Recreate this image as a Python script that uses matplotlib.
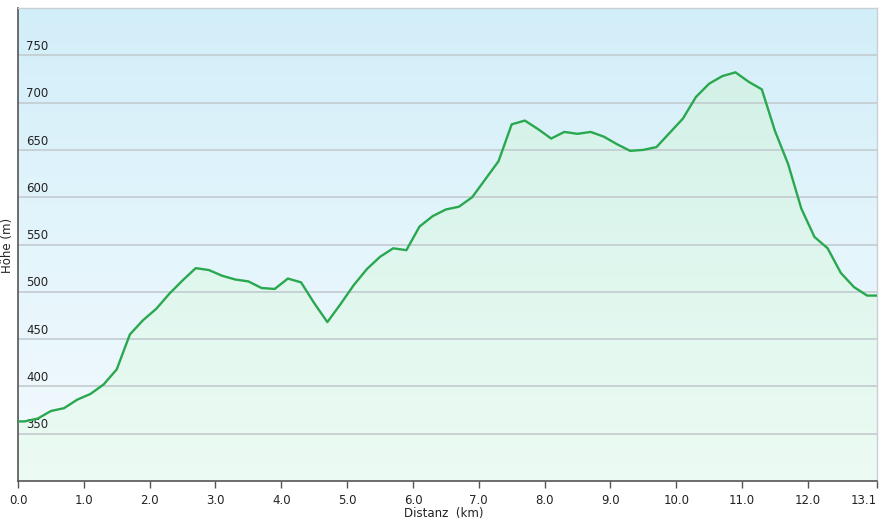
import numpy as np
import matplotlib
matplotlib.use("Agg")
import matplotlib.pyplot as plt
from matplotlib.colors import LinearSegmentedColormap
from matplotlib.patches import Polygon

distance_km = [0.0, 0.1, 0.3, 0.5, 0.7, 0.9, 1.1, 1.3, 1.5, 1.7, 1.9, 2.1, 2.3, 2.5, 2.7,
               2.9, 3.1, 3.3, 3.5, 3.7, 3.9, 4.1, 4.3, 4.5, 4.7, 4.9, 5.1, 5.3, 5.5, 5.7,
               5.9, 6.1, 6.3, 6.5, 6.7, 6.9, 7.1, 7.3, 7.5, 7.7, 7.9, 8.1, 8.3, 8.5, 8.7,
               8.9, 9.1, 9.3, 9.5, 9.7, 9.9, 10.1, 10.3, 10.5, 10.7, 10.9, 11.1, 11.3,
               11.5, 11.7, 11.9, 12.1, 12.3, 12.5, 12.7, 12.9, 13.05]
elevation_m = [363, 363, 366, 374, 377, 386, 392, 402, 418, 455, 470, 482, 498, 512, 525,
               523, 517, 513, 511, 504, 503, 514, 510, 488, 468, 487, 507, 524, 537, 546,
               544, 569, 580, 587, 590, 600, 619, 638, 677, 681, 672, 662, 669, 667, 669,
               664, 656, 649, 650, 653, 668, 683, 706, 720, 728, 732, 722, 714, 670, 635,
               588, 558, 546, 520, 505, 496, 496]
y_ticks = [350, 400, 450, 500, 550, 600, 650, 700, 750]
x_ticks = [0.0, 1.0, 2.0, 3.0, 4.0, 5.0, 6.0, 7.0, 8.0, 9.0, 10.0, 11.0, 12.0, 13.05]
x_tick_labels = ["0.0", "1.0", "2.0", "3.0", "4.0", "5.0", "6.0", "7.0", "8.0", "9.0",
                 "10.0", "11.0", "12.0", "13.1"]

W, H = 880, 520
fig = plt.figure(figsize=(W / 100, H / 100), dpi=100)
ax = fig.add_axes([18 / W, (H - 481) / H, (877 - 18) / W, (481 - 8) / H])
xmin, xmax, ymin, ymax = 0.0, 13.05, 300, 800
ax.set_xlim(xmin, xmax)
ax.set_ylim(ymin, ymax)

# background gradient (light blue at top to almost white at bottom)
bg = LinearSegmentedColormap.from_list("bg", ["#f4fafd", "#e4f5fc", "#d2eef9"])
grad = np.linspace(0, 1, 256).reshape(-1, 1)
ax.imshow(grad, cmap=bg, aspect="auto", extent=[xmin, xmax, ymin, ymax],
          origin="lower", zorder=0)

# area fill with green gradient clipped to polygon
fill_cmap = LinearSegmentedColormap.from_list("fill", ["#ecfbf3", "#e0f7ee", "#d3f1e8"])
verts = [(distance_km[0], ymin)] + list(zip(distance_km, elevation_m)) + [(distance_km[-1], ymin)]
poly = Polygon(verts, closed=True, facecolor="none", edgecolor="none")
ax.add_patch(poly)
im = ax.imshow(grad, cmap=fill_cmap, aspect="auto",
               extent=[xmin, xmax, ymin, max(elevation_m)], origin="lower", zorder=1)
im.set_clip_path(poly)

for yt in y_ticks:
    ax.axhline(yt, color="#c3cbcf", lw=1.2, zorder=2)
    ax.text(0.12, yt + 2.5, str(yt), fontsize=8.5, color="#222222",
            ha="left", va="bottom", zorder=3)

ax.plot(distance_km, elevation_m, color="#2aa84f", lw=1.7, zorder=4,
        solid_joinstyle="round")

ax.set_yticks([])
ax.set_xticks(x_ticks)
ax.set_xticklabels(x_tick_labels, fontsize=8.5, color="#222222")
ax.get_xticklabels()[-1].set_horizontalalignment("right")
ax.tick_params(axis="x", direction="out", length=5, width=1, color="#555555", pad=4)

for side in ["left", "bottom"]:
    ax.spines[side].set_color("#555555")
    ax.spines[side].set_linewidth(1.2)
for side in ["top", "right"]:
    ax.spines[side].set_color("#c8d0d4")
    ax.spines[side].set_linewidth(1.0)

fig.text(444 / W, 1 - 514 / H, "Distanz  (km)", fontsize=8.5, ha="center", va="center",
         color="#222222")
fig.text(8 / W, 1 - 245 / H, "Höhe (m)", fontsize=8.5, ha="center", va="center",
         rotation=90, color="#222222")

fig.savefig("out.png", dpi=100)
